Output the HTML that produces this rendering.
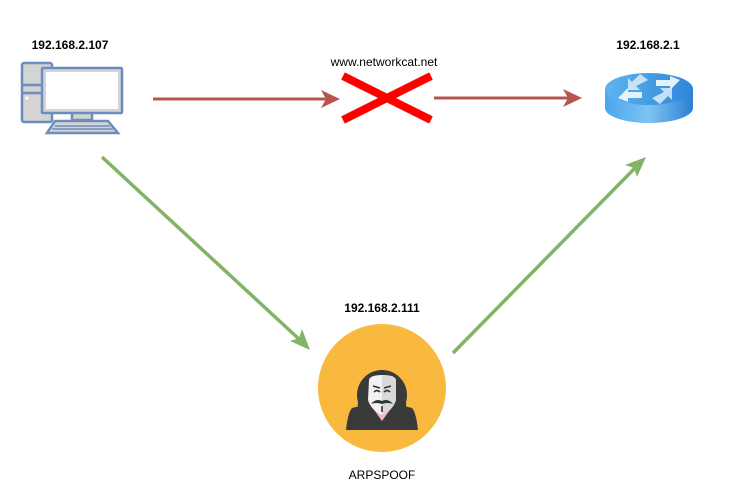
<!DOCTYPE html>
<html><head><meta charset="utf-8"><style>
html,body{margin:0;padding:0;background:#fff;}
svg{display:block;}
text{font-family:"Liberation Sans",Arial,sans-serif;}
</style></head><body>
<svg width="734" height="492" viewBox="0 0 734 492" xmlns="http://www.w3.org/2000/svg">
<defs>
<linearGradient id="rt" x1="0" x2="1"><stop offset="0" stop-color="#5fb4ef"/><stop offset="1" stop-color="#2f86d8"/></linearGradient>
<linearGradient id="rb" x1="0" x2="1"><stop offset="0" stop-color="#4aa6ea"/><stop offset="0.5" stop-color="#7cc4f4"/><stop offset="1" stop-color="#2e7fd2"/></linearGradient>
</defs>
<text x="70" y="49" font-size="12" font-weight="bold" text-anchor="middle">192.168.2.107</text>
<text x="648" y="49" font-size="12" font-weight="bold" text-anchor="middle">192.168.2.1</text>
<text x="384" y="66" font-size="12" text-anchor="middle">www.networkcat.net</text>
<text x="382" y="312" font-size="12" font-weight="bold" text-anchor="middle">192.168.2.111</text>
<text x="382" y="479" font-size="12" text-anchor="middle">ARPSPOOF</text>

<g stroke="#6c8ebf" stroke-width="2.5" fill="#d4d4d4">
<rect x="22" y="63" width="30" height="59" rx="2"/>
<line x1="22" y1="85" x2="52" y2="85"/><line x1="22" y1="93" x2="52" y2="93"/>
<rect x="72" y="112" width="20" height="8"/>
<rect x="42" y="68" width="80" height="45" rx="1" fill="#d4d4d4"/>
<path d="M55 121 L108 121 L118 133 L47 133 Z"/>
<line x1="55" y1="126" x2="110" y2="126" stroke-width="1.5"/>
<line x1="52" y1="129" x2="113" y2="129" stroke-width="1.5"/>
</g>
<rect x="46" y="72" width="72" height="37" fill="#fff"/>
<circle cx="27" cy="98" r="1.5" fill="#fff"/>

<path d="M605 89 L605 108 A44 15 0 0 0 693 108 L693 89 Z" fill="url(#rb)"/>
<ellipse cx="649" cy="89" rx="44" ry="16" fill="url(#rt)"/>
<g fill="#eef6fc" opacity="0.95">
<path d="M618 98 L628 88 L628 92 L642 92 L642 98 L628 98 L628 102 Z"/>
<path d="M680 80 L670 90 L670 86 L656 86 L656 80 L670 80 L670 76 Z"/>
<path d="M648 80 L640 74 L632 82 L628 78 L628 90 L640 90 L636 86 Z" opacity="0.8"/>
<path d="M652 98 L660 104 L668 96 L672 100 L672 88 L660 88 L664 92 Z" opacity="0.8"/>
</g>

<g stroke="#b85450" stroke-width="3" fill="#b85450">
<line x1="153" y1="99" x2="326" y2="99"/>
<line x1="434" y1="98" x2="570" y2="98"/>
</g>
<path d="M340 99 L321 90 L326 99 L321 108 Z" fill="#b85450"/>
<path d="M582 98 L563 89 L568 98 L563 107 Z" fill="#b85450"/>
<g stroke="#ff0000" stroke-width="8">
<line x1="343" y1="76" x2="431" y2="120"/>
<line x1="343" y1="120" x2="431" y2="76"/>
</g>

<g stroke="#82b366" stroke-width="3.5">
<line x1="102" y1="157" x2="300" y2="340"/>
<line x1="453" y1="353" x2="636" y2="167"/>
</g>
<path d="M310 350 L290 341 L299 338 L302 329 Z" fill="#82b366"/>
<path d="M646 157 L637 177 L634 168 L625 165 Z" fill="#82b366"/>

<circle cx="382" cy="388" r="64" fill="#f9b93e"/>
<path d="M352 408 Q382 400 412 408 Q416 412 418 430 L346 430 Q348 412 352 408 Z" fill="#3a3a3a"/>
<path d="M358 410 Q356 376 382 372 Q408 376 406 410 Z" fill="#3a3a3a"/>
<circle cx="382" cy="395" r="25" fill="#3a3a3a"/>
<path d="M372 407 L392 407 L382 421 Z" fill="#f6b8b4"/>
<path d="M369 380 Q370 375 382 375 Q395 375 396 380 L396 400 Q393 410 382 415 Q371 410 368 400 Z" fill="#f2f2f2"/>
<path d="M382 375 Q395 375 396 380 L396 400 Q393 410 382 415 Z" fill="#d9d9d9"/>
<g stroke="#333" stroke-width="1.6" fill="none">
<path d="M373 386 L380 388"/><path d="M384 388 L391 386"/>
<path d="M374 392 Q377 389 380 392"/><path d="M384 392 Q387 389 390 392"/>
</g>
<path d="M371 404 Q376 398 382 401 Q388 398 393 404 Q388 402 382 404 Q376 402 371 404 Z" fill="#333"/>
<line x1="382" y1="406" x2="382" y2="412" stroke="#333" stroke-width="1.6"/>
</svg>
</body></html>
